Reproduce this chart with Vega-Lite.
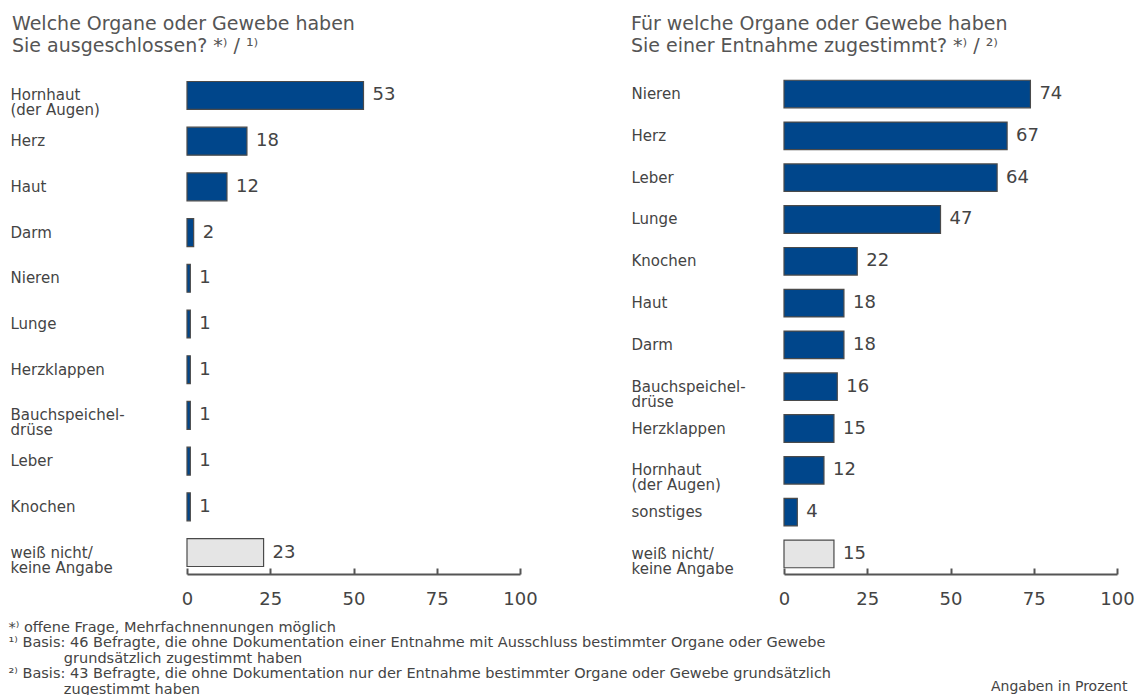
{
  "$schema": "https://vega.github.io/schema/vega-lite/v6.json",
  "padding": {"left": 8, "top": 15, "right": 5, "bottom": 5},
  "background": "white",
  "config": {
    "font": "DejaVu Sans",
    "view": {"stroke": null},
    "axis": {"labelColor": "#444", "titleColor": "#444", "grid": false}
  },
  "datasets": {
    "ausgeschlossen": [
      {"label": "Hornhaut|(der Augen)", "value": 53, "kind": "organ"},
      {"label": "Herz", "value": 18, "kind": "organ"},
      {"label": "Haut", "value": 12, "kind": "organ"},
      {"label": "Darm", "value": 2, "kind": "organ"},
      {"label": "Nieren", "value": 1, "kind": "organ"},
      {"label": "Lunge", "value": 1, "kind": "organ"},
      {"label": "Herzklappen", "value": 1, "kind": "organ"},
      {"label": "Bauchspeichel-|drüse", "value": 1, "kind": "organ"},
      {"label": "Leber", "value": 1, "kind": "organ"},
      {"label": "Knochen", "value": 1, "kind": "organ"},
      {"label": "weiß nicht/|keine Angabe", "value": 23, "kind": "unknown"}
    ],
    "zugestimmt": [
      {"label": "Nieren", "value": 74, "kind": "organ"},
      {"label": "Herz", "value": 67, "kind": "organ"},
      {"label": "Leber", "value": 64, "kind": "organ"},
      {"label": "Lunge", "value": 47, "kind": "organ"},
      {"label": "Knochen", "value": 22, "kind": "organ"},
      {"label": "Haut", "value": 18, "kind": "organ"},
      {"label": "Darm", "value": 18, "kind": "organ"},
      {"label": "Bauchspeichel-|drüse", "value": 16, "kind": "organ"},
      {"label": "Herzklappen", "value": 15, "kind": "organ"},
      {"label": "Hornhaut|(der Augen)", "value": 12, "kind": "organ"},
      {"label": "sonstiges", "value": 4, "kind": "organ"},
      {"label": "weiß nicht/|keine Angabe", "value": 15, "kind": "unknown"}
    ]
  },
  "hconcat": [
    {
      "width": 333,
      "height": 500,
      "data": {"name": "ausgeschlossen"},
      "title": {
        "text": ["Welche Organe oder Gewebe haben", "Sie ausgeschlossen? *⁾ / ¹⁾"],
        "anchor": "start",
        "frame": "group",
        "dx": -175,
        "fontSize": 19,
        "fontWeight": "normal",
        "color": "#555",
        "lineHeight": 22,
        "offset": 18
      },
      "encoding": {
        "y": {
          "field": "label",
          "type": "nominal",
          "sort": null,
          "scale": {"paddingInner": 0.389, "paddingOuter": 0.164},
          "axis": {
            "title": null,
            "domain": false,
            "ticks": false,
            "tickSize": 0,
            "labelAlign": "left",
            "labelPadding": 177,
            "labelFontSize": 15,
            "labelLineHeight": 15,
            "labelLimit": 200,
            "labelExpr": "split(datum.label, '|')"
          }
        },
        "x": {
          "field": "value",
          "type": "quantitative",
          "scale": {"domain": [0, 100], "nice": false},
          "axis": {
            "values": [0, 25, 50, 75, 100],
            "domainColor": "#555",
            "domainWidth": 2,
            "tickColor": "#555",
            "tickWidth": 2,
            "tickSize": -6,
            "labelPadding": 22,
            "labelFontSize": 18,
            "labelFlush": false,
            "title": [
              "*⁾ offene Frage, Mehrfachnennungen möglich",
              "¹⁾ Basis: 46 Befragte, die ohne Dokumentation einer Entnahme mit Ausschluss bestimmter Organe oder Gewebe",
              "\u200b\u2002\u2002\u2002\u2002\u2002\u2002\u2002\u00a0grundsätzlich zugestimmt haben",
              "²⁾ Basis: 43 Befragte, die ohne Dokumentation nur der Entnahme bestimmter Organe oder Gewebe grundsätzlich",
              "\u200b\u2002\u2002\u2002\u2002\u2002\u2002\u2002\u00a0zugestimmt haben"
            ],
            "titleFontSize": 14.5,
            "titleFontWeight": "normal",
            "titleLineHeight": 15.5,
            "titleAlign": "left",
            "titleBaseline": "top",
            "titleX": -179,
            "titleY": 46,
            "titleLimit": 1000
          }
        }
      },
      "layer": [
        {
          "mark": {"type": "bar", "stroke": "#4a4a4a", "strokeWidth": 1.2},
          "encoding": {
            "color": {
              "field": "kind",
              "type": "nominal",
              "scale": {"domain": ["organ", "unknown"], "range": ["#00468b", "#e5e5e5"]},
              "legend": null
            }
          }
        },
        {
          "mark": {"type": "text", "align": "left", "baseline": "middle", "dx": 9, "fontSize": 18, "color": "#444"},
          "encoding": {"text": {"field": "value", "type": "quantitative"}}
        }
      ]
    },
    {
      "width": 333,
      "height": 500,
      "data": {"name": "zugestimmt"},
      "title": {
        "text": ["Für welche Organe oder Gewebe haben", "Sie einer Entnahme zugestimmt? *⁾ / ²⁾"],
        "anchor": "start",
        "frame": "group",
        "dx": -153,
        "fontSize": 19,
        "fontWeight": "normal",
        "color": "#555",
        "lineHeight": 22,
        "offset": 18
      },
      "encoding": {
        "y": {
          "field": "label",
          "type": "nominal",
          "sort": null,
          "scale": {"paddingInner": 0.34, "paddingOuter": 0.15},
          "axis": {
            "title": null,
            "domain": false,
            "ticks": false,
            "tickSize": 0,
            "labelAlign": "left",
            "labelPadding": 153,
            "labelFontSize": 15,
            "labelLineHeight": 15,
            "labelLimit": 200,
            "labelExpr": "split(datum.label, '|')"
          }
        },
        "x": {
          "field": "value",
          "type": "quantitative",
          "scale": {"domain": [0, 100], "nice": false},
          "axis": {
            "values": [0, 25, 50, 75, 100],
            "domainColor": "#555",
            "domainWidth": 2,
            "tickColor": "#555",
            "tickWidth": 2,
            "tickSize": -6,
            "labelPadding": 22,
            "labelFontSize": 18,
            "labelFlush": false,
            "title": "Angaben in Prozent",
            "titleFontSize": 14,
            "titleFontWeight": "normal",
            "titleAlign": "right",
            "titleBaseline": "top",
            "titleX": 343,
            "titleY": 105
          }
        }
      },
      "layer": [
        {
          "mark": {"type": "bar", "stroke": "#4a4a4a", "strokeWidth": 1.2},
          "encoding": {
            "color": {
              "field": "kind",
              "type": "nominal",
              "scale": {"domain": ["organ", "unknown"], "range": ["#00468b", "#e5e5e5"]},
              "legend": null
            }
          }
        },
        {
          "mark": {"type": "text", "align": "left", "baseline": "middle", "dx": 9, "fontSize": 18, "color": "#444"},
          "encoding": {"text": {"field": "value", "type": "quantitative"}}
        }
      ]
    }
  ],
  "spacing": 264,
  "bounds": "flush",
  "resolve": {"scale": {"color": "independent"}}
}
